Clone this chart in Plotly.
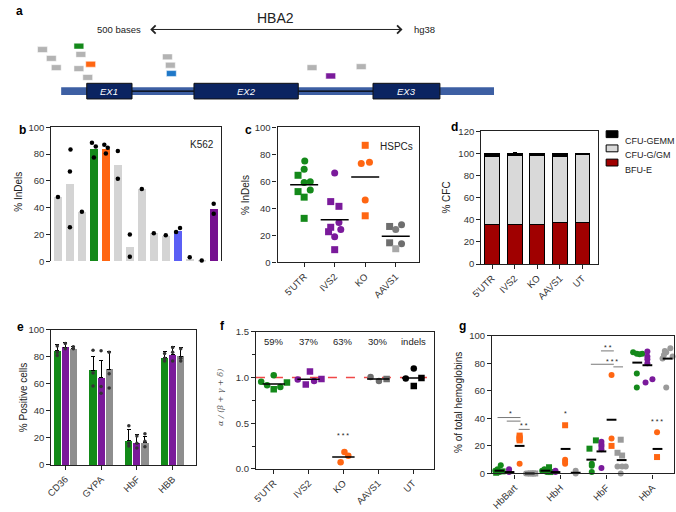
import plotly.graph_objects as go

W, H = 676, 512


def px(x):
    return x / W


def py(y):
    return 1 - y / H


GREEN = "#14891a"
ORANGE = "#ff6612"
PURPLE = "#7a1a9b"
BLUE = "#1f78c8"
GRAY = "#b3b3b3"
FONT = "Arial, Liberation Sans, sans-serif"
TICK = 9.5

# ---- a: HBA2 gene track (positions in bases) ----
gene_span = [0, 880]
exon_starts = [52, 270, 634]
exon_ends = [144, 482, 770]
exon_names = ["EX1", "EX2", "EX3"]
gene_row = 87
guide_starts = [-48, -30, -20, 26, 30, 50, 26, 44, 206, 212, 214, 500, 538, 600]
guide_rows = [44.5, 53.5, 63, 41, 49.5, 59.5, 64, 73, 52, 60.5, 69, 63, 71.5, 62]
guide_colors = [GRAY, GRAY, GRAY, GREEN, GRAY, ORANGE, GRAY, GRAY, GRAY, GRAY, BLUE, GRAY, PURPLE, GRAY]
guide_len = 20
scale_bar = [178, 694]

# ---- b: K562 indels ----
b_vals = [48, 58, 37, 84, 84, 72, 11, 54, 21, 19, 23, 2, 0.5, 39]
b_colors = ["#d4d4d4"] * 14
b_colors[3] = GREEN
b_colors[4] = ORANGE
b_colors[10] = "#5b5ff5"
b_colors[13] = "#75108f"
b_dots = [[48], [83.5, 67, 25.4], [37], [88.5, 85.8, 77.5], [87, 84.8, 80.4], [82.4, 61.6],
          [20, 3.4], [54], [21], [19.5], [22, 25], [3], [0.7], [43, 35.5]]
b_dots_dx = [[0], [0.05, 0, 0], [0], [-0.16, 0.16, 0], [-0.13, 0.16, 0], [0, 0],
             [0, 0], [0], [0], [0], [-0.14, 0.19], [0], [0], [0, 0]]
b_groups = ["5'UTR/ATG", "IVS1", "IVS2"]
b_group_x0 = [0.05, 7.72, 10.59]
b_group_x1 = [6.9, 10.31, 13.16]

# ---- c: HSPC indels ----
c_cats = ["5'UTR", "IVS2", "KO", "AAVS1"]
c_vals = [[75, 69, 64.5, 59.7, 59.2, 52.4, 53.6, 48.3, 32.6],
          [66.2, 45, 41.5, 29.5, 26, 24.4, 22.7, 19, 9.4],
          [86.7, 73.2, 74.2, 46.1, 34.5],
          [26.6, 24.4, 27.8, 14.5, 13.8, 10.1]]
c_dx = [[0.02, 0, -0.2, 0.2, 0, -0.2, 0.2, 0, 0],
        [0, -0.13, 0.14, 0.14, -0.13, 0.2, -0.2, 0, 0],
        [0, -0.13, 0.14, 0, 0],
        [-0.2, 0, 0.19, -0.2, 0.19, 0]]
c_sym = ["ccsccscss", "csscscscs", "scccs", "sccscs"]
c_colors = [[GREEN] * 9, [PURPLE] * 9, [ORANGE] * 5,
            ["#6e6e6e", "#7c7c7c", "#6e6e6e", "#6e6e6e", "#6e6e6e", "#a8a8a8"]]
c_means = [57.5, 31.6, 63.3, 19.3]

# ---- d: CFC ----
d_cats = ["5'UTR", "IVS2", "KO", "AAVS1", "UT"]
d_bfu = [35.7, 36, 36, 37.8, 37.2]
d_gm = [61.6, 62.2, 62.5, 59.5, 62.2]
d_gemm = [2.7, 1.8, 1.5, 2.7, 0.6]
d_bfu_err = [0, 1, 0, 0, 0]
d_gemm_err = [0, 0.8, 0, 0, 0]
d_legend = ["CFU-GEMM", "CFU-G/GM", "BFU-E"]
d_legend_colors = ["black", "#d9d9d9", "#a00000"]

# ---- e: erythroid markers ----
e_cats = ["CD36", "GYPA", "HbF", "HBB"]
e_green = [84.4, 70.2, 17.8, 79.3]
e_purple = [87.3, 64.7, 15.9, 81.5]
e_gray = [86, 70.7, 16.3, 80.3]
e_green_err = [4.6, 10.3, 8.2, 4.4]
e_purple_err = [3.6, 12.9, 6.5, 6.5]
e_gray_err = [1.7, 13, 4.9, 7]
e_green_dots = [[88, 83.5, 81], [85, 68, 58.5], [29, 16, 14], [82.5, 79, 77]]
e_purple_dots = [[90, 86], [84.5, 58, 53], [21.5, 16, 12.5], [87, 83.5, 77]]
e_gray_dots = [[87.5, 86], [83.5, 67.5, 57], [23, 17.5, 13.5], [86, 79, 77]]

# ---- f: globin chain ratio ----
f_cats = ["5'UTR", "IVS2", "KO", "AAVS1", "UT"]
f_pct = ["59%", "37%", "63%", "30%", "indels"]
f_vals = [[0.953, 0.914, 1.024, 0.871, 0.896, 0.946],
          [0.978, 0.924, 1.066, 0.963, 0.985],
          [0.185, 0.071, 0.142],
          [1.006, 0.963, 0.985],
          [0.99, 1.10, 0.906, 0.995]]
f_dx = [[-0.36, -0.19, 0, 0, 0.19, 0.38],
        [-0.31, -0.08, 0.04, 0.16, 0.37],
        [0.03, -0.08, 0.14],
        [-0.22, 0.02, 0.24],
        [-0.21, 0.02, 0.02, 0.24]]
f_sym = ["cccscs", "csscs", "ccc", "ccs", "ccss"]
f_colors = [GREEN, PURPLE, ORANGE, "#6e6e6e", "black"]
f_means = [0.93, 0.98, 0.13, 0.985, 0.995]

# ---- g: hemoglobin HPLC ----
g_cats = ["HbBart", "HbH", "HbF", "HbA"]
g_green_vals = [[6, 3, 2, 1, 1.5, 0.5], [4.5, 3, 2, 1, 1, 2.5], [18, 24, 7, 5.5, 1],
                [88, 87, 86.5, 87, 72.5, 62.5]]
g_green_dx = [[-0.3, -0.37, -0.42, -0.33, -0.26, -0.4], [-0.25, -0.35, -0.4, -0.3, -0.22, -0.28],
              [-0.37, -0.23, -0.32, -0.32, -0.32], [-0.42, -0.34, -0.28, -0.22, -0.34, -0.34]]
g_green_sym = ["ccccss", "scccss", "ssccc", "cccccc"]
g_green_mean = [2, 2, 10, 80.5]
g_purple_vals = [[3, 1], [2, 1], [23, 21, 19.5, 17.5, 4], [88.5, 85, 83, 80, 66, 68.5]]
g_purple_dx = [[-0.12, -0.12], [-0.11, -0.11], [-0.11, -0.11, -0.11, -0.11, -0.11],
               [-0.11, -0.11, -0.11, -0.11, -0.15, 0.0]]
g_purple_sym = ["cc", "cc", "ccccc", "cccccc"]
g_purple_mean = [1, 1, 16, 78.6]
g_orange_vals = [[27.5, 26, 25, 24, 7], [35, 10, 8.5, 7], [71.5, 25.4, 20], [29.9, 11.9]]
g_orange_dx = [[0.11, 0.11, 0.11, 0.11, 0.11], [0.1, 0.1, 0.1, 0.1], [0.11, 0.11, 0.11], [0.1, 0.1]]
g_orange_sym = ["ssssc", "sccc", "ccs", "cs"]
g_orange_mean = [20, 17.8, 39, 17.8]
g_gray_vals = [[0, 0, 0, 0, 0], [2, 0], [24.5, 15, 13, 5, 5, 5, 0], [91, 89, 88, 86, 85, 83.5, 62.5]]
g_gray_dx = [[0.25, 0.3, 0.35, 0.4, 0.45], [0.33, 0.33], [0.31, 0.24, 0.34, 0.24, 0.34, 0.42, 0.31],
             [0.39, 0.27, 0.3, 0.25, 0.44, 0.22, 0.3]]
g_gray_sym = ["ccsss", "cc", "ssscccc", "ccccccc"]
g_gray_mean = [0, 0.5, 9.7, 83.4]
g_mean_dx = [-0.33, -0.11, 0.11, 0.33]
# significance marks: (category, x offset, y, text)
g_sig_text = [(0, -0.09, 43.5, "*"), (0, 0.21, 34.5, "**"), (1, 0.1, 43.5, "*"),
              (2, 0.04, 91.5, "**"), (2, 0.11, 81.5, "***"), (3, 0.1, 37.5, "***")]
g_sig_lines = [(0, -0.37, 0.13, 40.6), (0, -0.17, 0.13, 38), (0, 0.09, 0.33, 32),
               (2, -0.12, 0.16, 89), (2, -0.34, 0.16, 79.3), (2, 0.15, 0.36, 77.4)]

SYM = {"c": "circle", "s": "square"}

fig = go.Figure()

# ---------------- a ----------------
shapes = []
shapes.append(dict(type="rect", xref="x", yref="y", x0=gene_span[0], x1=gene_span[1],
                   y0=gene_row - 4, y1=gene_row + 4, fillcolor="#3d5fa3", line=dict(width=0), layer="below"))
for i in range(len(exon_starts) - 1):
    shapes.append(dict(type="line", xref="x", yref="y", x0=exon_ends[i], x1=exon_starts[i + 1],
                       y0=gene_row, y1=gene_row, line=dict(color="black", width=1.3)))
for s, e in zip(exon_starts, exon_ends):
    shapes.append(dict(type="rect", xref="x", yref="y", x0=s, x1=e, y0=gene_row - 8, y1=gene_row + 8,
                       fillcolor="#0b2461", line=dict(color="#111", width=1)))
for s, r, c in zip(guide_starts, guide_rows, guide_colors):
    shapes.append(dict(type="rect", xref="x", yref="y", x0=s, x1=s + guide_len, y0=r - 3, y1=r + 3,
                       fillcolor=c, line=dict(color="white", width=0.5)))

annotations = []
for s, e, n in zip(exon_starts, exon_ends, exon_names):
    annotations.append(dict(x=(s + e) / 2, y=gene_row, xref="x", yref="y", text=f"<i>{n}</i>",
                            showarrow=False, font=dict(size=9.5, color="white", family=FONT)))
annotations.append(dict(x=scale_bar[1], y=24, ax=scale_bar[0], ay=24, xref="x", yref="y", axref="x", ayref="y",
                        text="", showarrow=True, arrowside="end+start", arrowhead=4, arrowsize=1.6,
                        arrowwidth=1, arrowcolor="#222"))
annotations.append(dict(x=scale_bar[0] - 12, y=24, xref="x", yref="y", text="500 bases", xanchor="right",
                        showarrow=False, font=dict(size=9.5, color="#222", family=FONT)))
annotations.append(dict(x=scale_bar[1] + 20, y=24, xref="x", yref="y", text="hg38", xanchor="left",
                        showarrow=False, font=dict(size=9.5, color="#222", family=FONT)))
annotations.append(dict(x=(scale_bar[0] + scale_bar[1]) / 2, y=12, xref="x", yref="y", text="HBA2",
                        showarrow=False, font=dict(size=14, color="#222", family=FONT)))
fig.add_trace(go.Scatter(x=[gene_span[0]], y=[gene_row], mode="markers", marker=dict(opacity=0),
                         showlegend=False, hoverinfo="skip", xaxis="x", yaxis="y"))

# ---------------- b ----------------
fig.add_trace(go.Bar(x=list(range(len(b_vals))), y=b_vals, marker=dict(color=b_colors, line=dict(width=0)),
                     width=0.68, xaxis="x2", yaxis="y2", showlegend=False))
bx, by = [], []
for i, (vals, dxs) in enumerate(zip(b_dots, b_dots_dx)):
    for v, d in zip(vals, dxs):
        bx.append(i + d)
        by.append(v)
fig.add_trace(go.Scatter(x=bx, y=by, mode="markers", marker=dict(color="black", size=4.5),
                         xaxis="x2", yaxis="y2", showlegend=False, cliponaxis=False))
for name, x0, x1 in zip(b_groups, b_group_x0, b_group_x1):
    shapes.append(dict(type="line", xref="x2", yref="y2", x0=x0, x1=x1, y0=-1.7, y1=-1.7,
                       line=dict(color="#222", width=1)))
    annotations.append(dict(x=(x0 + x1) / 2, y=-8.5, xref="x2", yref="y2", text=name, showarrow=False,
                            font=dict(size=TICK, color="#222", family=FONT)))
annotations.append(dict(x=px(208), y=py(134), xref="paper", yref="paper", text="K562", xanchor="right",
                        showarrow=False, font=dict(size=10, color="#222", family=FONT)))

# ---------------- c ----------------
for i, (vals, dxs, syms, cols) in enumerate(zip(c_vals, c_dx, c_sym, c_colors)):
    fig.add_trace(go.Scatter(x=[i + d for d in dxs], y=vals, mode="markers",
                             marker=dict(color=cols, size=7, symbol=[SYM[s] for s in syms]),
                             xaxis="x3", yaxis="y3", showlegend=False, cliponaxis=False))
fig.add_trace(go.Scatter(x=list(range(len(c_means))), y=c_means, mode="markers",
                         marker=dict(symbol="line-ew", size=20, line=dict(width=1.5, color="black")),
                         xaxis="x3", yaxis="y3", showlegend=False))
annotations.append(dict(x=px(411), y=py(136), xref="paper", yref="paper", text="HSPCs", xanchor="right",
                        showarrow=False, font=dict(size=10, color="#222", family=FONT)))

# ---------------- d ----------------
dx = list(range(len(d_cats)))
fig.add_trace(go.Bar(x=dx, y=d_bfu, name="BFU-E", marker=dict(color="#a00000", line=dict(color="black", width=1)),
                     width=0.66, xaxis="x4", yaxis="y4", showlegend=False,
                     error_y=dict(type="data", array=d_bfu_err, arrayminus=[0] * 5, symmetric=False,
                                  color="black", thickness=1, width=2)))
fig.add_trace(go.Bar(x=dx, y=d_gm, name="CFU-G/GM", marker=dict(color="#d9d9d9", line=dict(color="black", width=1)),
                     width=0.66, xaxis="x4", yaxis="y4", showlegend=False))
fig.add_trace(go.Bar(x=dx, y=d_gemm, name="CFU-GEMM", marker=dict(color="black", line=dict(color="black", width=1)),
                     width=0.66, xaxis="x4", yaxis="y4", showlegend=False,
                     error_y=dict(type="data", array=d_gemm_err, arrayminus=[0] * 5, symmetric=False,
                                  color="black", thickness=1, width=2)))
# legend drawn as swatches so the row spacing matches the figure
for k, (name, col) in enumerate(zip(d_legend, d_legend_colors)):
    yc = 131 + 14.5 * k
    shapes.append(dict(type="rect", xref="paper", yref="paper", x0=px(605), x1=px(617),
                       y0=py(yc + 3.5), y1=py(yc - 3.5), fillcolor=col, line=dict(color="black", width=1)))
    annotations.append(dict(x=px(622), y=py(yc), xref="paper", yref="paper", text=name, xanchor="left",
                            showarrow=False, font=dict(size=9, color="#222", family=FONT)))

# ---------------- e ----------------
e_offsets = [-0.225, 0, 0.225]
e_series = [(e_green, e_green_err, e_green_dots, "#128a18"),
            (e_purple, e_purple_err, e_purple_dots, "#7a1a9a"),
            (e_gray, e_gray_err, e_gray_dots, "#8e8e8e")]
for off, (vals, err, dots, col) in zip(e_offsets, e_series):
    fig.add_trace(go.Bar(x=[i + off for i in range(len(e_cats))], y=vals, width=0.2,
                         marker=dict(color=col, line=dict(width=0)), xaxis="x5", yaxis="y5", showlegend=False,
                         error_y=dict(type="data", array=err, arrayminus=[0] * 4, symmetric=False,
                                      color="black", thickness=1, width=2)))
    ex, ey = [], []
    for i, ds in enumerate(dots):
        for v in ds:
            ex.append(i + off)
            ey.append(v)
    fig.add_trace(go.Scatter(x=ex, y=ey, mode="markers", marker=dict(color="#333", size=3.5),
                             xaxis="x5", yaxis="y5", showlegend=False))

# ---------------- f ----------------
for i, (vals, dxs, syms, col) in enumerate(zip(f_vals, f_dx, f_sym, f_colors)):
    fig.add_trace(go.Scatter(x=[i + d for d in dxs], y=vals, mode="markers",
                             marker=dict(color=col, size=6.5, symbol=[SYM[s] for s in syms]),
                             xaxis="x6", yaxis="y6", showlegend=False))
fig.add_trace(go.Scatter(x=list(range(len(f_means))), y=f_means, mode="markers",
                         marker=dict(symbol="line-ew", size=16, line=dict(width=1.5, color="black")),
                         xaxis="x6", yaxis="y6", showlegend=False))
shapes.append(dict(type="line", xref="x6 domain", yref="y6", x0=0, x1=1, y0=1, y1=1,
                   line=dict(color="#f04848", width=1.5, dash="dash"), layer="below"))
for i, t in enumerate(f_pct):
    annotations.append(dict(x=i, y=1.39, xref="x6", yref="y6", text=t, showarrow=False,
                            font=dict(size=TICK, color="#222", family=FONT)))
annotations.append(dict(x=2, y=0.37, xref="x6", yref="y6", text="* * *", showarrow=False,
                        font=dict(size=7, color="#222", family=FONT)))

# ---------------- g ----------------
g_series = [(g_green_vals, g_green_dx, g_green_sym, GREEN),
            (g_purple_vals, g_purple_dx, g_purple_sym, PURPLE),
            (g_orange_vals, g_orange_dx, g_orange_sym, ORANGE),
            (g_gray_vals, g_gray_dx, g_gray_sym, "#9a9a9a")]
for vals, dxs, syms, col in g_series:
    gx, gy, gs = [], [], []
    for i in range(len(g_cats)):
        for v, d, s in zip(vals[i], dxs[i], syms[i]):
            gx.append(i + d)
            gy.append(v)
            gs.append(SYM[s])
    fig.add_trace(go.Scatter(x=gx, y=gy, mode="markers", marker=dict(color=col, size=6, symbol=gs),
                             xaxis="x7", yaxis="y7", showlegend=False, cliponaxis=False))
for means, off in zip([g_green_mean, g_purple_mean, g_orange_mean, g_gray_mean], g_mean_dx):
    fig.add_trace(go.Scatter(x=[i + off for i in range(len(g_cats))], y=means, mode="markers",
                             marker=dict(symbol="line-ew", size=7, line=dict(width=2, color="black")),
                             xaxis="x7", yaxis="y7", showlegend=False, cliponaxis=False))
for ci, x0, x1, yv in g_sig_lines:
    shapes.append(dict(type="line", xref="x7", yref="y7", x0=ci + x0, x1=ci + x1, y0=yv, y1=yv,
                       line=dict(color="#555", width=0.8)))
for ci, off, yv, t in g_sig_text:
    annotations.append(dict(x=ci + off, y=yv, xref="x7", yref="y7", text=" ".join(t), showarrow=False,
                            font=dict(size=7, color="#222", family=FONT)))

# ---------------- labels ----------------
for letter, x, y in [("a", 3, 5), ("b", 6, 127), ("c", 236, 127), ("d", 445, 124),
                     ("e", 4, 328), ("f", 210, 327), ("g", 453, 327)]:
    annotations.append(dict(x=px(x), y=py(y), xref="paper", yref="paper", text=f"<b>{letter}</b>",
                            showarrow=False, xanchor="left", yanchor="middle",
                            font=dict(size=12, color="black", family=FONT)))
for text, x, y in [("% InDels", 8, 190), ("% InDels", 239, 193), ("% CFC", 443, 196),
                   ("% Positive cells", 13, 400), ("% of total hemoglobins", 455, 405)]:
    annotations.append(dict(x=px(x), y=py(y), xref="paper", yref="paper", text=text, textangle=-90,
                            xanchor="center", yanchor="middle", showarrow=False,
                            font=dict(size=10, color="#222", family=FONT)))
annotations.append(dict(x=px(213), y=py(400), xref="paper", yref="paper", xanchor="center", yanchor="middle",
                        text="<i>α / (β + γ + δ)</i>", textangle=-90, showarrow=False,
                        font=dict(size=8, color="#555", family="DejaVu Serif, serif")))


def yax(domain, rng, dtick, **kw):
    d = dict(domain=[py(domain[0]), py(domain[1])], range=rng, dtick=dtick, showgrid=False, zeroline=False,
             showline=True, linecolor="#222", linewidth=1.2, mirror=True, ticks="outside", ticklen=4,
             tickwidth=1, tickcolor="#222", tickfont=dict(size=TICK, color="#333", family=FONT))
    d.update(kw)
    return d


def xax(domain, rng, cats, anchor, **kw):
    d = dict(domain=[px(domain[0]), px(domain[1])], range=rng, anchor=anchor, tickvals=list(range(len(cats))),
             ticktext=cats, tickangle=-45, showgrid=False, zeroline=False, showline=True, linecolor="#222",
             linewidth=1.2, mirror=True, ticks="outside", ticklen=4, tickwidth=1, tickcolor="#222",
             tickfont=dict(size=TICK, color="#333", family=FONT))
    d.update(kw)
    return d


fig.update_layout(
    width=W, height=H, margin=dict(l=0, r=0, t=0, b=0),
    plot_bgcolor="white", paper_bgcolor="white", barmode="stack", showlegend=False,
    font=dict(family=FONT, size=9, color="#222"),
    shapes=shapes, annotations=annotations,
    xaxis=dict(domain=[0, 1], range=[-102, 1250], visible=False, anchor="y"),
    yaxis=dict(domain=[py(100), py(0)], range=[100, 0], visible=False, anchor="x"),
    xaxis2=dict(domain=[px(41), px(213)], range=[-0.55, 13.57], anchor="y2", side="top", showline=True,
                linecolor="#222", linewidth=1.2, showticklabels=False, ticks="", showgrid=False, zeroline=False),
    yaxis2=yax([261, 124], [0, 100], 20, anchor="x2"),
    xaxis3=xax([271, 415], [-0.87, 3.77], c_cats, "y3"),
    yaxis3=yax([262, 124], [0, 100], 20, anchor="x3"),
    xaxis4=xax([478, 597], [-0.48, 4.7], d_cats, "y4"),
    yaxis4=yax([263.7, 128], [0, 120], 20, anchor="x4"),
    xaxis5=xax([41, 188], [-0.39, 3.65], e_cats, "y5"),
    yaxis5=yax([469, 331], [0, 100], 20, anchor="x5"),
    xaxis6=xax([249, 430], [-0.51, 4.6], f_cats, "y6"),
    yaxis6=yax([473, 333], [0, 1.5], 0.5, anchor="x6", tickformat=".1f",
               minor=dict(ticks="outside", dtick=0.25, ticklen=3, tickcolor="#222")),
    xaxis7=xax([489, 674], [-0.49, 3.47], g_cats, "y7"),
    yaxis7=yax([477.7, 337], [0, 100], 20, anchor="x7"),
)

fig.write_html("out.html", config={"displayModeBar": False},
               post_script="document.body.style.margin='0px';")
